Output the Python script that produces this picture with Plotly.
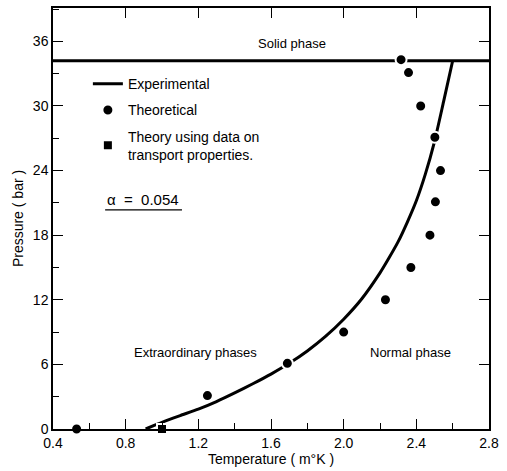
import plotly.graph_objects as go

# ---- data ----
exp_T = [0.91, 0.96, 1.02, 1.10, 1.20, 1.30, 1.40, 1.50, 1.60, 1.70, 1.80, 1.90,
         2.00, 2.10, 2.20, 2.25, 2.30, 2.35, 2.40, 2.45, 2.50, 2.55, 2.60]
exp_P = [0.0, 0.35, 0.75, 1.25, 1.85, 2.55, 3.35, 4.2, 5.1, 6.1, 7.25, 8.6,
         10.2, 12.1, 14.5, 15.9, 17.4, 19.2, 21.2, 23.7, 26.7, 30.4, 34.2]

theo_T = [0.53, 1.25, 1.69, 2.00, 2.23, 2.37, 2.475, 2.505, 2.533, 2.502, 2.424, 2.357, 2.316]
theo_P = [0.0, 3.1, 6.1, 9.0, 12.0, 15.0, 18.0, 21.1, 24.0, 27.1, 30.0, 33.1, 34.3]

transport_T = [1.0]
transport_P = [0.0]

solid_P = 34.2
x_range = [0.4, 2.8]
y_range = [0, 39.1]
x_major = [0.4, 0.8, 1.2, 1.6, 2.0, 2.4, 2.8]
y_major = [0, 6, 12, 18, 24, 30, 36]

FONT = "Liberation Sans"

fig = go.Figure()

# solid phase boundary
fig.add_trace(go.Scatter(x=x_range, y=[solid_P, solid_P], mode="lines",
                         line=dict(color="black", width=3), showlegend=False,
                         hoverinfo="skip"))
# experimental
fig.add_trace(go.Scatter(x=exp_T, y=exp_P, mode="lines", name="Experimental",
                         line=dict(color="black", width=3, shape="spline", smoothing=0.6),
                         legendgroup="a", cliponaxis=False))
# theoretical
fig.add_trace(go.Scatter(x=theo_T, y=theo_P, mode="markers", name="Theoretical",
                         marker=dict(symbol="circle", size=11, color="black",
                                     line=dict(color="white", width=2)),
                         legendgroup="b", cliponaxis=False))
# theory using transport data
fig.add_trace(go.Scatter(x=transport_T, y=transport_P, mode="markers",
                         name="Theory using data on<br>transport properties.",
                         marker=dict(symbol="square", size=10, color="black",
                                     line=dict(color="white", width=2)),
                         legendgroup="c", cliponaxis=False))
# dummy for secondary axes
fig.add_trace(go.Scatter(x=[x_range[0]], y=[y_range[0]], xaxis="x2", yaxis="y2",
                         mode="markers", marker=dict(opacity=0), showlegend=False,
                         hoverinfo="skip"))

tickfont = dict(family=FONT, size=14, color="black")
fig.update_layout(
    width=507, height=471,
    margin=dict(l=53, r=11, t=8, b=42),
    plot_bgcolor="white", paper_bgcolor="white",
    font=dict(family=FONT, size=13, color="black"),
    xaxis=dict(range=x_range, tickvals=x_major, tickformat=".1f",
               ticks="inside", ticklen=10, tickwidth=1.3, tickcolor="black",
               minor=dict(dtick=0.2, tick0=0.4, ticks="inside", ticklen=6,
                          tickwidth=1.3, tickcolor="black", showgrid=False),
               showline=True, linecolor="black", linewidth=1.5,
               showgrid=False, zeroline=False, tickfont=tickfont,
               title=dict(text="Temperature ( m°K )", font=dict(family=FONT, size=14),
                          standoff=2)),
    yaxis=dict(range=y_range, tickvals=y_major,
               ticks="inside", ticklen=10, tickwidth=1.3, tickcolor="black",
               minor=dict(dtick=3, tick0=0, ticks="inside", ticklen=6,
                          tickwidth=1.3, tickcolor="black", showgrid=False),
               showline=True, linecolor="black", linewidth=1.5,
               showgrid=False, zeroline=False, tickfont=tickfont,
               title=dict(text="Pressure ( bar )", font=dict(family=FONT, size=14),
                          standoff=6)),
    xaxis2=dict(overlaying="x", side="top", range=x_range, tickvals=x_major,
                ticks="inside", ticklen=10, tickwidth=1.3, tickcolor="black",
                showticklabels=False, showline=True, linecolor="black", linewidth=1.5,
                showgrid=False, zeroline=False),
    yaxis2=dict(overlaying="y", side="right", range=y_range, tickvals=y_major,
                ticks="inside", ticklen=10, tickwidth=1.3, tickcolor="black",
                showticklabels=False, showline=True, linecolor="black", linewidth=1.5,
                showgrid=False, zeroline=False),
    legend=dict(x=0.08, y=0.857, xanchor="left", yanchor="top",
                bgcolor="rgba(0,0,0,0)", borderwidth=0,
                font=dict(family=FONT, size=14), tracegroupgap=5,
                itemwidth=30),
    showlegend=True,
)

ann_font = dict(family=FONT, size=13, color="black")
fig.add_annotation(x=1.718, y=35.8, text="Solid phase", showarrow=False, font=ann_font)
fig.add_annotation(x=0.685, y=21.3, text="α  =  0.054", showarrow=False,
                   font=dict(family=FONT, size=15, color="black"), xanchor="left")
fig.add_annotation(x=1.183, y=7.06, text="Extraordinary phases", showarrow=False,
                   font=ann_font)
fig.add_annotation(x=2.366, y=7.1, text="Normal phase", showarrow=False, font=ann_font)
fig.add_shape(type="line", x0=0.687, x1=1.11, y0=20.36, y1=20.36,
              line=dict(color="black", width=1.3))

fig.write_html("out.html")
